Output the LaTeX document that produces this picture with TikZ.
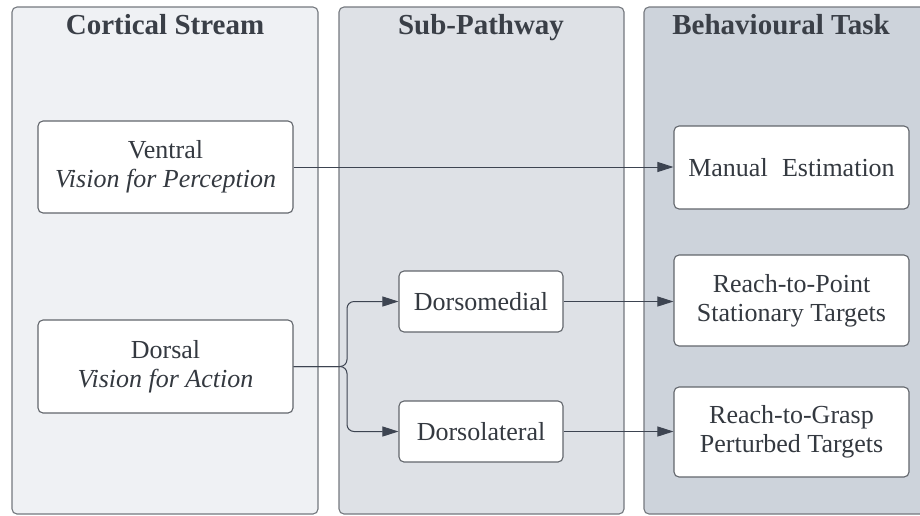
\documentclass[tikz,border=0pt]{standalone}
\usepackage{fontspec}
\setmainfont{Liberation Serif}
\usetikzlibrary{arrows.meta}

\definecolor{paneA}{HTML}{EFF1F4}
\definecolor{paneB}{HTML}{DEE1E6}
\definecolor{paneC}{HTML}{CDD3DB}
\definecolor{paneEdge}{HTML}{74787E}
\definecolor{boxEdge}{HTML}{62666C}
\definecolor{ink}{HTML}{3A3F47}
\definecolor{wire}{HTML}{3D4451}

\tikzset{
  pane/.style={draw=paneEdge, line width=1.1pt, rounded corners=5pt},
  panetitle/.style={text=ink, font=\fontsize{29}{32}\selectfont\bfseries, anchor=base},
  card/.style={draw=boxEdge, fill=white, line width=1.1pt, rounded corners=5pt,
    align=center, text=ink!90!black, inner sep=0pt,
    font=\fontsize{26}{29}\selectfont},
  link/.style={draw=wire, line width=1pt,
    -{Triangle[length=16pt,width=10pt]}},
}

\begin{document}
\begin{tikzpicture}[x=1pt, y=-1pt]
  \useasboundingbox (0,0) rectangle (920,515);
  \begin{scope}
    \clip (0,0) rectangle (920,515);
    % column panels
    \draw[pane, fill=paneA] (12,7) rectangle (318,514);
    \draw[pane, fill=paneB] (339,7) rectangle (624,514);
    \draw[pane, fill=paneC] (644,7) rectangle (935,514);
  \end{scope}

  % column headings
  \node[panetitle] (tA) at (165,34) {Cortical Stream};
  \node[panetitle] (tB) at (481,34) {Sub-Pathway};
  \node[panetitle] (tC) at (781,34) {Behavioural Task};

  % cortical streams
  \node[card, minimum width=255pt, minimum height=92pt] (ventral) at (165.5,167)
    {Ventral\\\textit{Vision for Perception}};
  \node[card, minimum width=255pt, minimum height=93pt] (dorsal) at (165.5,366.5)
    {Dorsal\\\textit{Vision for Action}};

  % dorsal sub-pathways
  \node[card, minimum width=164pt, minimum height=61pt] (dm) at (481,301.5) {Dorsomedial};
  \node[card, minimum width=164pt, minimum height=61pt] (dl) at (481,431.5) {Dorsolateral};

  % behavioural tasks
  \node[card, minimum width=235pt, minimum height=83pt] (manual) at (791.5,167.5)
    {Manual\hspace{0.3em} Estimation};
  \node[card, minimum width=235pt, minimum height=91pt] (point) at (791.5,300.5)
    {Reach-to-Point\\Stationary Targets};
  \node[card, minimum width=235pt, minimum height=90pt] (grasp) at (791.5,432)
    {Reach-to-Grasp\\Perturbed Targets};

  % connectors
  \coordinate (fork) at (347,366.5);
  \draw[link] (ventral.east) -- (manual.west |- ventral.east);
  \draw[link, rounded corners=7pt] (dorsal.east) -- (fork) |- (dm.west);
  \draw[link, rounded corners=7pt] (dorsal.east) -- (fork) |- (dl.west);
  \draw[link] (dm.east) -- (point.west |- dm.east);
  \draw[link] (dl.east) -- (grasp.west |- dl.east);
\end{tikzpicture}
\end{document}
